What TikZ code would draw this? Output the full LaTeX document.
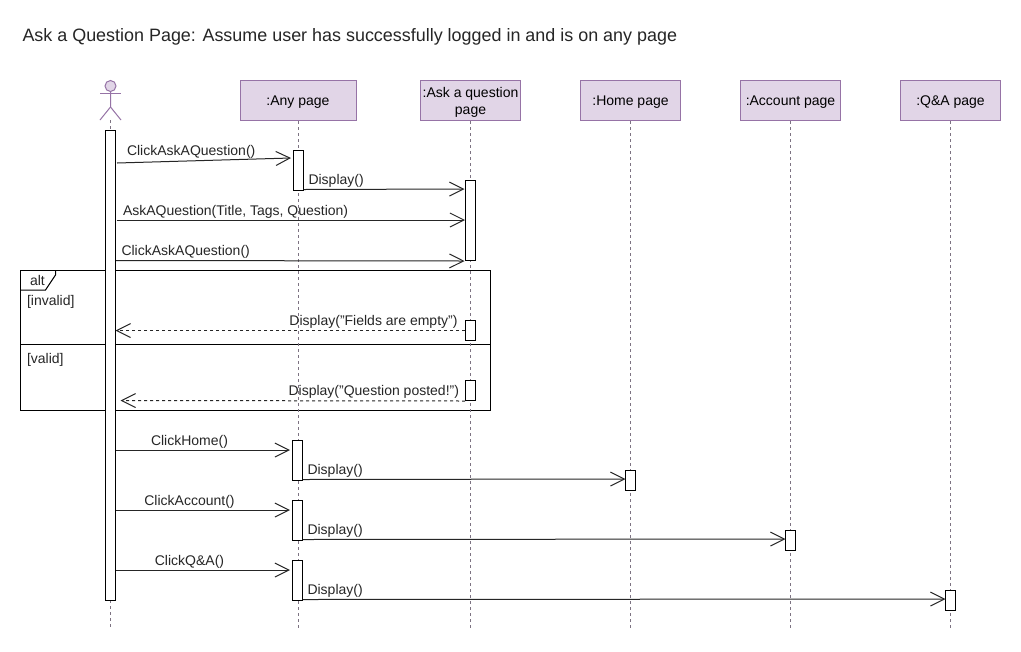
\documentclass[tikz,border=0pt]{standalone}
\usepackage{fontspec}
\setmainfont{Liberation Sans}
\usetikzlibrary{arrows.meta,calc}

\begin{document}
\begin{tikzpicture}[
    x=0.75pt, y=-0.75pt, line width=0.75pt,
    pagebox/.style={rectangle, draw=umlline, fill=umlfill, minimum height=30pt, inner sep=0pt, text depth=0pt, align=center, font=\fontsize{10.5}{12.75}\selectfont},
    actbar/.style={rectangle, draw=black, fill=white, minimum width=7.5pt, inner sep=0pt},
    lifeline/.style={draw=lifegray, dash pattern=on 2.25pt off 2.25pt},
    msg/.style={draw=black!85, -{Straight Barb[length=10.5pt, width=10.5pt, line width=0.75pt]}},
    reply/.style={msg, dash pattern=on 2.25pt off 2.25pt},
    msglabel/.style={inner sep=0pt, text=black!85, font=\fontsize{10.5}{12.75}\selectfont}
]

% Colors
\definecolor{umlline}{RGB}{150,115,166}
\definecolor{umlfill}{RGB}{225,213,231}
\definecolor{lifegray}{RGB}{125,115,130}

\useasboundingbox (0,0) rectangle (1021,651);
\fill[white] (0,0) rectangle (1021,651);

% Title
\node[anchor=west, inner sep=0pt, text=black!85, font=\fontsize{13.45}{16}\selectfont] (title) at (22,37)
    {Ask a Question Page: Assume user has successfully logged in and is on any page};

% Alt frame
\node[rectangle, draw=black, minimum width=352.5pt, minimum height=105pt, inner sep=0pt] (altframe) at (255.5,340.5) {};
\draw[black] ($(altframe.north west)+(0,20)$) -- ++(25.5,0) -- ++(10,-15) -- ++(0,-5);
\draw[black] ($(altframe.north west)+(0,74)$) -- ($(altframe.north east)+(0,74)$);
\node[msglabel] (altlabel) at (37.5,280) {alt};
\node[msglabel, anchor=west] (invalidlabel) at (26.5,302) {[invalid]};
\node[msglabel, anchor=west] (validlabel) at (26.5,360) {[valid]};

% Actor
\node[circle, draw=umlline, fill=umlfill, minimum size=8.25pt, inner sep=0pt] (actorhead) at (110.5,86) {};
\coordinate (actorbody) at (110.5,107);
\coordinate (actorfeet) at (110.5,120);
\draw[umlline] (actorhead) -- (actorbody) -- (100,120);
\draw[umlline] (actorbody) -- (121,120);
\draw[umlline] (100,93) -- (121,93);

% Pages
\node[pagebox, minimum width=87pt] (anypage) at (298,100.5) {:Any page};
\node[pagebox, minimum width=75pt] (askpage) at (470.5,100.5) {:Ask a question\\page};
\node[pagebox, minimum width=75pt] (homepage) at (630.5,100.5) {:Home page};
\node[pagebox, minimum width=75pt] (accountpage) at (790.5,100.5) {:Account page};
\node[pagebox, minimum width=75pt] (qapage) at (950.5,100.5) {:Q\&A page};

% Lifelines
\coordinate (actorend) at (110.5,628);
\coordinate (anyend) at (298,628);
\coordinate (askend) at (470.5,628);
\coordinate (homeend) at (630.5,628);
\coordinate (accountend) at (790.5,628);
\coordinate (qaend) at (950.5,628);
\draw[lifeline] (actorfeet) -- (actorend);
\draw[lifeline] (anypage.south) -- (anyend);
\draw[lifeline] (askpage.south) -- (askend);
\draw[lifeline] (homepage.south) -- (homeend);
\draw[lifeline] (accountpage.south) -- (accountend);
\draw[lifeline] (qapage.south) -- (qaend);

% Activation bars
\node[actbar, minimum height=352.5pt] (userbar) at (110.5,365.5) {};
\node[actbar, minimum height=30pt] (anybar1) at (298,170.5) {};
\node[actbar, minimum height=60pt] (askbar1) at (470.5,220.5) {};
\node[actbar, minimum height=15pt] (askbar2) at (470.5,330.5) {};
\node[actbar, minimum height=15pt] (askbar3) at (470.5,390.5) {};
\node[actbar, minimum height=30pt] (anybar2) at (297,460.5) {};
\node[actbar, minimum height=30pt] (anybar3) at (297,520.5) {};
\node[actbar, minimum height=30pt] (anybar4) at (297,580.5) {};
\node[actbar, minimum height=15pt] (homebar) at (630.5,480.5) {};
\node[actbar, minimum height=15pt] (accountbar) at (790.5,540.5) {};
\node[actbar, minimum height=15pt] (qabar) at (950.5,600.5) {};

% Messages
\draw[msg] ($(userbar.north east)+(1,33)$) -- ($(anybar1.north west)+(-1.5,8)$);
\draw[msg] ($(anybar1.south east)+(0,-1.5)$) -- ($(askbar1.north west)+(-0.5,9)$);
\draw[msg] ($(userbar.north east)+(0.5,90)$) -- ($(askbar1.north west)+(0,40)$);
\draw[msg] ($(userbar.north east)+(0,130.5)$) -- ($(askbar1.south west)+(-0.5,0)$);
\draw[reply] (askbar2.west) -- ($(userbar.east |- askbar2.west)+(-0.5,0)$);
\draw[reply] (askbar3.south west) -- ($(userbar.east |- askbar3.south)+(4.5,-0.5)$);
\draw[msg] ($(userbar.east |- anybar2.north)+(0,10)$) -- ($(anybar2.north west)+(-1.5,10)$);
\draw[msg] ($(anybar2.south east)+(0,-1.5)$) -- ($(homebar.north west)+(0.5,9)$);
\draw[msg] ($(userbar.east |- anybar3.north)+(0,10)$) -- ($(anybar3.north west)+(-1.5,10)$);
\draw[msg] ($(anybar3.south east)+(0,-1.5)$) -- ($(accountbar.north west)+(0.5,9)$);
\draw[msg] ($(userbar.east |- anybar4.north)+(0,10)$) -- ($(anybar4.north west)+(-1.5,10)$);
\draw[msg] ($(anybar4.south east)+(0,-1.5)$) -- ($(qabar.north west)+(0.5,9)$);

% Message labels
\node[msglabel, anchor=west] (clickask1) at (126.5,152) {ClickAskAQuestion()};
\node[msglabel, anchor=west] (display1) at (308,181) {Display()};
\node[msglabel, anchor=west] (askq) at (122.5,212) {AskAQuestion(Title, Tags, Question)};
\node[msglabel, anchor=west] (clickask2) at (121,252) {ClickAskAQuestion()};
\node[msglabel, anchor=east] (emptymsg) at (458,322) {Display("Fields are empty")};
\node[msglabel, anchor=east] (postedmsg) at (459.5,392) {Display("Question posted!")};
\node[msglabel] (clickhome) at (189.5,442) {ClickHome()};
\node[msglabel, anchor=west] (display2) at (307,471) {Display()};
\node[msglabel] (clickaccount) at (189.5,502) {ClickAccount()};
\node[msglabel, anchor=west] (display3) at (307,531) {Display()};
\node[msglabel] (clickqa) at (189.5,562) {ClickQ\&A()};
\node[msglabel, anchor=west] (display4) at (307,591) {Display()};

\end{tikzpicture}
\end{document}
